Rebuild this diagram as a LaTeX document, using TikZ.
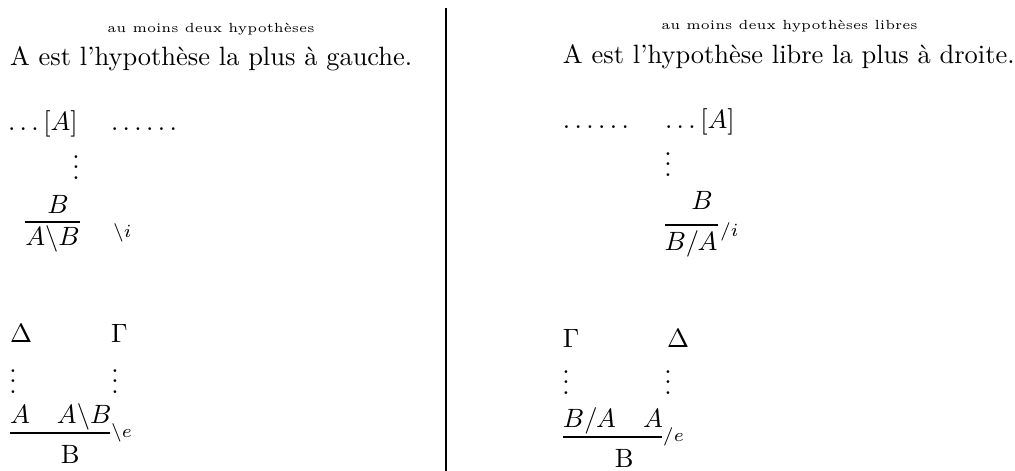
\documentclass[tikz,border=0pt]{standalone}
\begin{document}
\begin{tikzpicture}[x=0.3781pt,y=-0.3781pt,
  txt/.style={inner sep=0pt,outer sep=0pt,anchor=base west},
  ctxt/.style={inner sep=0pt,outer sep=0pt,anchor=base},
  small/.style={font=\tiny},
  lbl/.style={font=\scriptsize},
  rulel/.style={line width=0.4pt}]
\useasboundingbox (0,0) rectangle (1015,471);
% ---------- left column ----------
\node[ctxt,small] (t1) at (211,32) {au moins deux hypothèses};
\node[txt] (m1) at (10,65) {A est l'hypothèse la plus à gauche.};
\node[txt] (la1) at (8,130) {$\ldots[A]$};
\node[txt] (la2) at (111,130) {$\ldots\ldots$};
\node[ctxt] (lv1) at (76,179.5) {$\vdots$};
\node[ctxt] (lb1) at (58,213) {$B$};
\coordinate (lf1a) at (25,222);
\coordinate (lf1b) at (80,222);
\draw[rulel] (lf1a) -- (lf1b);
\node[ctxt] (ld1) at (52.5,245) {$A\backslash B$};
\node[txt,lbl] (li) at (113,237.5) {$\backslash i$};
\node[txt] (ldelta) at (10,342) {$\Delta$};
\node[txt] (lgamma) at (111,342) {$\Gamma$};
\node[ctxt] (lv2) at (13,393.5) {$\vdots$};
\node[ctxt] (lv3) at (115,393.5) {$\vdots$};
\node[txt] (la3) at (10,423) {$A$};
\node[txt] (la4) at (57,423) {$A\backslash B$};
\coordinate (lf2a) at (10,433);
\coordinate (lf2b) at (110,433);
\draw[rulel] (lf2a) -- (lf2b);
\node[txt,lbl] (le) at (111,437) {$\backslash e$};
\node[txt] (lb2) at (61,463) {B};
% ---------- separator ----------
\coordinate (s1) at (446,8);
\coordinate (s2) at (446,471);
\draw[rulel] (s1) -- (s2);
% ---------- right column ----------
\node[ctxt,small] (t2) at (789.5,29) {au moins deux hypothèses libres};
\node[txt] (m2) at (563,63) {A est l'hypothèse libre la plus à droite.};
\node[txt] (ra1) at (563,128) {$\ldots\ldots$};
\node[txt] (ra2) at (665,128) {$\ldots[A]$};
\node[ctxt] (rv1) at (668,176.5) {$\vdots$};
\node[ctxt] (rb1) at (702,209) {$B$};
\coordinate (rf1a) at (665,225);
\coordinate (rf1b) at (718,225);
\draw[rulel] (rf1a) -- (rf1b);
\node[ctxt] (rd1) at (691,250) {$B/A$};
\node[txt,lbl] (ri) at (720,236) {$/i$};
\node[txt] (rgamma) at (563,347) {$\Gamma$};
\node[txt] (rdelta) at (667,347) {$\Delta$};
\node[ctxt] (rv2) at (566,394.5) {$\vdots$};
\node[ctxt] (rv3) at (668,394.5) {$\vdots$};
\node[txt] (ra3) at (563,427) {$B/A$};
\node[txt] (ra4) at (643,427) {$A$};
\coordinate (rf2a) at (563,437);
\coordinate (rf2b) at (662,437);
\draw[rulel] (rf2a) -- (rf2b);
\node[txt,lbl] (re) at (663,441) {$/e$};
\node[txt] (rb2) at (615,467) {B};
\end{tikzpicture}
\end{document}
